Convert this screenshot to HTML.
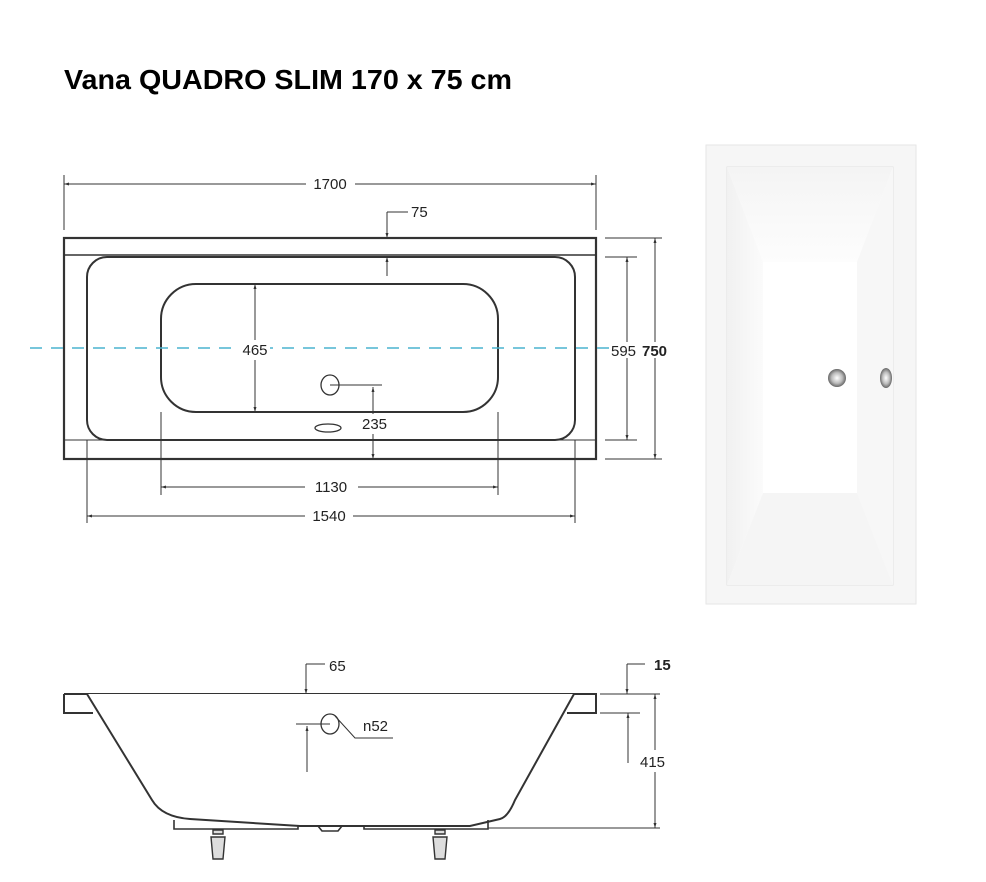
<!DOCTYPE html>
<html><head><meta charset="utf-8"><style>
html,body{margin:0;padding:0;background:#fff;}
svg{display:block;}
text{font-family:"Liberation Sans",Arial,sans-serif;fill:#222;}
</style></head><body>
<svg width="986" height="882" viewBox="0 0 986 882" xmlns="http://www.w3.org/2000/svg">
<defs>
<marker id="a" viewBox="0 0 10 10" refX="10" refY="5" markerWidth="5" markerHeight="5" orient="auto-start-reverse"><path d="M0,2 L10,5 L0,8 z" fill="#333"/></marker>
<linearGradient id="gl" x1="0" x2="1"><stop offset="0" stop-color="#f1f1f1"/><stop offset="1" stop-color="#fbfbfb"/></linearGradient>
<linearGradient id="gt" x1="0" y1="0" x2="0" y2="1"><stop offset="0" stop-color="#f4f4f4"/><stop offset="1" stop-color="#fdfdfd"/></linearGradient>
<radialGradient id="chrome"><stop offset="0" stop-color="#fff"/><stop offset="0.6" stop-color="#bbb"/><stop offset="1" stop-color="#666"/></radialGradient>
</defs>
<text x="64" y="89" font-size="28" font-weight="bold" textLength="448" lengthAdjust="spacingAndGlyphs" style="fill:#000">Vana QUADRO SLIM 170 x 75 cm</text>

<g stroke="#333" fill="none" stroke-width="1">
<line x1="64" y1="175" x2="64" y2="230"/><line x1="596" y1="175" x2="596" y2="230"/>
<line x1="64" y1="184" x2="306" y2="184" marker-start="url(#a)"/><line x1="355" y1="184" x2="596" y2="184" marker-end="url(#a)"/>
<rect x="64" y="238" width="532" height="221" stroke-width="2.2"/>
<line x1="64" y1="255" x2="596" y2="255" stroke-width="1.6"/>
<line x1="64" y1="440" x2="596" y2="440" stroke-width="1"/>
<rect x="87" y="257" width="488" height="183" rx="20" stroke-width="2"/>
<rect x="161" y="284" width="337" height="128" rx="35" stroke-width="2"/>
<line x1="387" y1="212" x2="408" y2="212"/><line x1="387" y1="212" x2="387" y2="238" marker-end="url(#a)"/>
<line x1="387" y1="276" x2="387" y2="257" marker-end="url(#a)"/>
<line x1="255" y1="340" x2="255" y2="284" marker-end="url(#a)"/><line x1="255" y1="360" x2="255" y2="412" marker-end="url(#a)"/>
<ellipse cx="330" cy="385" rx="9" ry="10" stroke-width="1.3"/>
<line x1="330" y1="385" x2="382" y2="385"/>
<line x1="373" y1="414" x2="373" y2="387" marker-end="url(#a)"/><line x1="373" y1="434" x2="373" y2="459" marker-end="url(#a)"/>
<ellipse cx="328" cy="428" rx="13" ry="4" stroke-width="1.3"/>
<line x1="605" y1="238" x2="662" y2="238"/><line x1="605" y1="459" x2="662" y2="459"/>
<line x1="605" y1="257" x2="637" y2="257"/><line x1="605" y1="440" x2="637" y2="440"/>
<line x1="627" y1="342" x2="627" y2="257" marker-end="url(#a)"/><line x1="627" y1="358" x2="627" y2="440" marker-end="url(#a)"/>
<line x1="655" y1="342" x2="655" y2="238" marker-end="url(#a)"/><line x1="655" y1="358" x2="655" y2="459" marker-end="url(#a)"/>
<line x1="161" y1="412" x2="161" y2="495"/><line x1="498" y1="412" x2="498" y2="495"/>
<line x1="161" y1="487" x2="305" y2="487" marker-start="url(#a)"/><line x1="358" y1="487" x2="498" y2="487" marker-end="url(#a)"/>
<line x1="87" y1="440" x2="87" y2="523"/><line x1="575" y1="440" x2="575" y2="523"/>
<line x1="87" y1="516" x2="305" y2="516" marker-start="url(#a)"/><line x1="353" y1="516" x2="575" y2="516" marker-end="url(#a)"/>
</g>
<line x1="30" y1="348" x2="612" y2="348" stroke="#4ab3cf" stroke-width="1.5" stroke-dasharray="12,9"/>
<g font-size="15">
<text x="330" y="189" text-anchor="middle">1700</text>
<text x="411" y="217">75</text>
<rect x="240" y="340" width="30" height="16" fill="#fff"/><text x="255" y="355" text-anchor="middle">465</text>
<text x="362" y="429">235</text>
<text x="611" y="356">595</text><text x="642" y="356" font-weight="bold">750</text>
<text x="331" y="492" text-anchor="middle">1130</text>
<text x="329" y="521" text-anchor="middle">1540</text>
</g>

<g>
<rect x="706" y="145" width="210" height="459" fill="#f6f6f6" stroke="#e6e6e6"/>
<rect x="727" y="167" width="166" height="418" fill="#fdfdfd" stroke="#e2e2e2"/>
<polygon points="727,167 893,167 857,262 763,262" fill="url(#gt)"/>
<polygon points="727,167 763,262 763,493 727,585" fill="url(#gl)"/>
<polygon points="893,167 893,585 857,493 857,262" fill="#f7f7f7"/>
<polygon points="727,585 763,493 857,493 893,585" fill="#f5f5f5"/>
<rect x="763" y="262" width="94" height="231" fill="#fff"/>
<circle cx="837" cy="378" r="9" fill="url(#chrome)"/>
<ellipse cx="886" cy="378" rx="6" ry="10" fill="url(#chrome)"/>
</g>

<g stroke="#333" fill="none" stroke-width="2">
<path d="M64,694 L596,694 L596,713 L567,713 M64,694 L64,713 L93,713"/>
<path d="M87,694 L152,800 Q162,817 190,819 L300,826 L470,826 L500,819 Q508,817 515,800 L574,694" fill="#fff"/>
<path d="M174,820 L174,829 L298,829 L298,825 M488,820 L488,829 L364,829 L364,825 M318,826 L322,831 L338,831 L342,826" stroke-width="1.6"/>
<path d="M213,830 h10 v4 h-10 z M211,837 h14 l-2,22 h-10 z" stroke-width="1.4" fill="#ddd"/>
<path d="M435,830 h10 v4 h-10 z M433,837 h14 l-2,22 h-10 z" stroke-width="1.4" fill="#ddd"/>
</g>
<g stroke="#333" fill="none" stroke-width="1">
<line x1="306" y1="664" x2="325" y2="664"/><line x1="306" y1="664" x2="306" y2="694" marker-end="url(#a)"/>
<line x1="627" y1="664" x2="645" y2="664"/><line x1="627" y1="664" x2="627" y2="694" marker-end="url(#a)"/>
<line x1="600" y1="694" x2="660" y2="694"/><line x1="600" y1="713" x2="640" y2="713"/>
<line x1="628" y1="763" x2="628" y2="713" marker-end="url(#a)"/>
<line x1="488" y1="828" x2="660" y2="828"/>
<line x1="655" y1="750" x2="655" y2="694" marker-end="url(#a)"/><line x1="655" y1="772" x2="655" y2="828" marker-end="url(#a)"/>
<ellipse cx="330" cy="724" rx="9" ry="10" stroke-width="1.3"/>
<path d="M335,716 L355,738 L393,738"/>
<line x1="296" y1="724" x2="330" y2="724"/>
<line x1="307" y1="772" x2="307" y2="726" marker-end="url(#a)"/>
</g>
<g font-size="15">
<text x="329" y="671">65</text>
<text x="654" y="670" font-weight="bold">15</text>
<text x="363" y="731">n52</text>
<text x="640" y="767">415</text>
</g>
</svg>
</body></html>
